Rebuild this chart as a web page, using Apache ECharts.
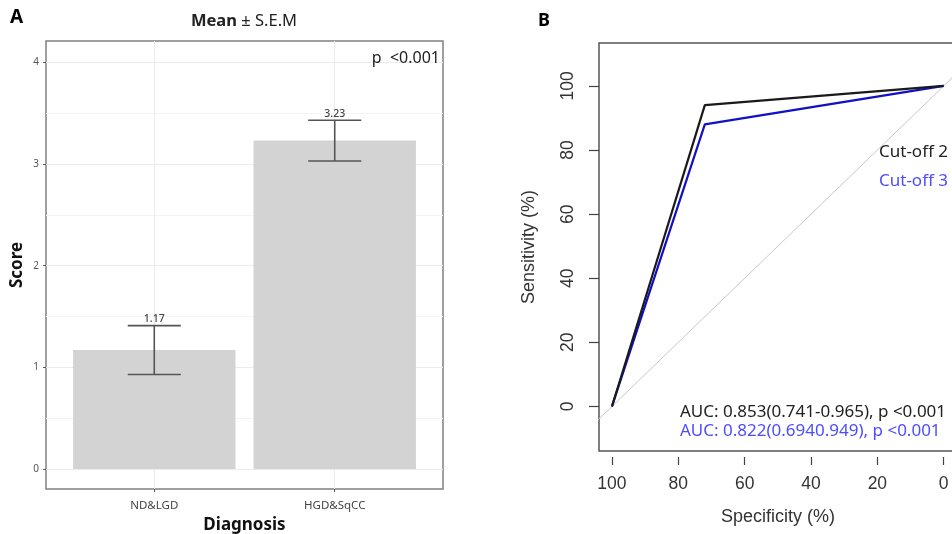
<!DOCTYPE html>
<html>
<head>
<meta charset="utf-8">
<script src="https://cdn.jsdelivr.net/npm/echarts@6/dist/echarts.min.js"></script>
<style>
html,body{margin:0;padding:0;background:#fff;}
#c{width:952px;height:534px;}
</style>
</head>
<body>
<div id="c"></div>
<script>
// ---- Panel A data ----
const categories = ['ND&LGD', 'HGD&SqCC'];
const means = [1.17, 3.23];
const sems = [0.24, 0.20];
const meanLabels = ['1.17', '3.23'];
const scoreTicks = [0, 1, 2, 3, 4];
const scoreMinorTicks = [0.5, 1.5, 2.5, 3.5];

// ---- Panel B data ----
const specCut2 = [100, 72, 0];
const sensCut2 = [0, 94, 100];
const specCut3 = [100, 72, 0];
const sensCut3 = [0, 88, 100];
const refSpec = [110, -10];
const refSens = [-10, 110];
const pctTicks = [0, 20, 40, 60, 80, 100];
const aucText2 = 'AUC: 0.853(0.741-0.965), p <0.001';
const aucText3 = 'AUC: 0.822(0.6940.949), p <0.001';

const chart = echarts.init(document.getElementById('c'), null, {renderer: 'canvas'});

const barData = categories.map((c, i) => [i + 1, means[i], sems[i], i]);

const fontA = '"Noto Sans", sans-serif';
const fontB = '"Liberation Sans", Arial, sans-serif';

const option = {
  animation: false,
  backgroundColor: '#fff',
  grid: [
    {left: 46, top: 41, width: 397, height: 448, show: true, borderColor: '#808080', borderWidth: 1.5, backgroundColor: '#fff', z: 0, containLabel: false, outerBoundsMode: 'none'},
    {left: 599, top: 43, width: 358, height: 408, show: true, borderColor: '#555', borderWidth: 1.5, backgroundColor: 'transparent', containLabel: false, outerBoundsMode: 'none'}
  ],
  xAxis: [
    {
      type: 'value', gridIndex: 0, min: 0.4, max: 2.6,
      name: 'Diagnosis', nameLocation: 'middle', nameGap: 26,
      nameTextStyle: {fontFamily: fontA, fontSize: 17, fontWeight: 'bold', color: '#111'},
      axisLine: {show: false, onZero: false},
      axisTick: {show: true, length: 3, lineStyle: {color: '#555'}, customValues: [1, 2]},
      axisLabel: {customValues: [1, 2], formatter: v => categories[Math.round(v) - 1] || '', fontFamily: fontA, fontSize: 11.5, color: '#444', margin: 11},
      splitLine: {show: true, lineStyle: {color: '#ececec', width: 1}}
    },
    {
      type: 'value', gridIndex: 1, min: -4, max: 103.9, inverse: true, offset: 6,
      name: 'Specificity (%)', nameLocation: 'middle', nameGap: 51,
      nameTextStyle: {fontFamily: fontB, fontSize: 18, color: '#333'},
      axisLine: {show: false, onZero: false},
      axisTick: {show: true, length: 8, lineStyle: {color: '#444', width: 1.2}, customValues: pctTicks},
      axisLabel: {customValues: pctTicks, fontFamily: fontB, fontSize: 17.5, color: '#333', margin: 18},
      splitLine: {show: false}
    }
  ],
  yAxis: [
    {
      type: 'value', gridIndex: 0, min: -0.197, max: 4.21,
      name: 'Score', nameLocation: 'middle', nameGap: 20, nameRotate: 90,
      nameTextStyle: {fontFamily: fontA, fontSize: 17, fontWeight: 'bold', color: '#111'},
      axisLine: {show: false, onZero: false},
      axisTick: {show: true, length: 3, lineStyle: {color: '#555'}, customValues: scoreTicks},
      axisLabel: {customValues: scoreTicks, fontFamily: fontA, fontSize: 10, color: '#555', margin: 7},
      splitLine: {show: true, lineStyle: {color: '#ececec', width: 1}}
    },
    {
      type: 'value', gridIndex: 0, min: -0.197, max: 4.21, position: 'left',
      axisLine: {show: false, onZero: false},
      axisTick: {show: false, customValues: scoreMinorTicks},
      axisLabel: {show: false, customValues: scoreMinorTicks},
      splitLine: {show: true, lineStyle: {color: '#f4f4f4', width: 1}}
    },
    {
      type: 'value', gridIndex: 1, min: -13.9, max: 113.4,
      name: 'Sensitivity (%)', nameLocation: 'middle', nameGap: 61, nameRotate: 90,
      nameTextStyle: {fontFamily: fontB, fontSize: 18, color: '#333'},
      axisLine: {show: false, onZero: false},
      axisTick: {show: true, length: 10, lineStyle: {color: '#444', width: 1.2}, customValues: pctTicks},
      axisLabel: {customValues: pctTicks, rotate: 90, fontFamily: fontB, fontSize: 17.5, color: '#333', margin: 22},
      splitLine: {show: false}
    }
  ],
  series: [
    {
      type: 'custom', xAxisIndex: 0, yAxisIndex: 0, data: barData, z: 2,
      renderItem: function (params, api) {
        const x = api.value(0), y = api.value(1);
        const p0 = api.coord([x - 0.45, y]);
        const p1 = api.coord([x + 0.45, 0]);
        return {type: 'rect', shape: {x: p0[0], y: p0[1], width: p1[0] - p0[0], height: p1[1] - p0[1]}, style: {fill: '#d3d3d3'}};
      }
    },
    {
      type: 'custom', xAxisIndex: 0, yAxisIndex: 0, data: barData, z: 3,
      renderItem: function (params, api) {
        const x = api.value(0), y = api.value(1), s = api.value(2), idx = api.value(3);
        const top = api.coord([x, y + s]);
        const bot = api.coord([x, y - s]);
        const l = api.coord([x - 0.147, y])[0];
        const r = api.coord([x + 0.147, y])[0];
        const ls = {stroke: '#555', lineWidth: 1.6};
        return {type: 'group', children: [
          {type: 'line', shape: {x1: top[0], y1: top[1], x2: bot[0], y2: bot[1]}, style: ls},
          {type: 'line', shape: {x1: l, y1: top[1], x2: r, y2: top[1]}, style: ls},
          {type: 'line', shape: {x1: l, y1: bot[1], x2: r, y2: bot[1]}, style: ls},
          {type: 'text', x: top[0], y: top[1] - 1, style: {text: meanLabels[idx], textAlign: 'center', textVerticalAlign: 'bottom', fontFamily: fontA, fontSize: 10.5, fontWeight: 500, fill: '#444'}}
        ]};
      }
    },
    {
      type: 'line', xAxisIndex: 1, yAxisIndex: 2, data: refSpec.map((v, i) => [v, refSens[i]]),
      showSymbol: false, clip: true, lineStyle: {color: '#c8c8c8', width: 1}, z: 1
    },
    {
      type: 'line', xAxisIndex: 1, yAxisIndex: 2, data: specCut3.map((v, i) => [v, sensCut3[i]]),
      showSymbol: false, clip: true, lineStyle: {color: '#1010c8', width: 2.2}, z: 2
    },
    {
      type: 'line', xAxisIndex: 1, yAxisIndex: 2, data: specCut2.map((v, i) => [v, sensCut2[i]]),
      showSymbol: false, clip: true, lineStyle: {color: '#1a1a1a', width: 2.2}, z: 3
    }
  ],
  graphic: [
    {type: 'text', z: 100, left: 10, top: 8, style: {text: 'A', fontFamily: fontA, fontSize: 19, fontWeight: 'bold', fill: '#000'}},
    {type: 'text', z: 100, x: 244, y: 21, style: {text: '{b|Mean} ± S.E.M', textAlign: 'center', textVerticalAlign: 'middle', fontFamily: fontA, fontSize: 16.5, fill: '#222', rich: {b: {fontFamily: fontA, fontSize: 16.5, fontWeight: 'bold', fill: '#222'}}}},
    {type: 'text', z: 100, x: 440, y: 58, style: {text: 'p  <0.001', textAlign: 'right', textVerticalAlign: 'middle', fontFamily: fontA, fontSize: 16, fill: '#222'}},
    {type: 'text', z: 100, left: 538, top: 12, style: {text: 'B', fontFamily: fontA, fontSize: 18, fontWeight: 'bold', fill: '#000'}},
    {type: 'text', z: 100, x: 879, y: 152, style: {text: 'Cut-off 2', textAlign: 'left', textVerticalAlign: 'middle', fontFamily: fontA, fontSize: 17, fill: '#222'}},
    {type: 'text', z: 100, x: 879, y: 181, style: {text: 'Cut-off 3', textAlign: 'left', textVerticalAlign: 'middle', fontFamily: fontA, fontSize: 17, fill: '#4d4dff'}},
    {type: 'text', z: 100, x: 680, y: 412, style: {text: aucText2, textAlign: 'left', textVerticalAlign: 'middle', fontFamily: fontA, fontSize: 17, fill: '#222'}},
    {type: 'text', z: 100, x: 680, y: 431, style: {text: aucText3, textAlign: 'left', textVerticalAlign: 'middle', fontFamily: fontA, fontSize: 17, fill: '#4d4dff'}}
  ]
};
chart.setOption(option);
</script>
</body>
</html>
